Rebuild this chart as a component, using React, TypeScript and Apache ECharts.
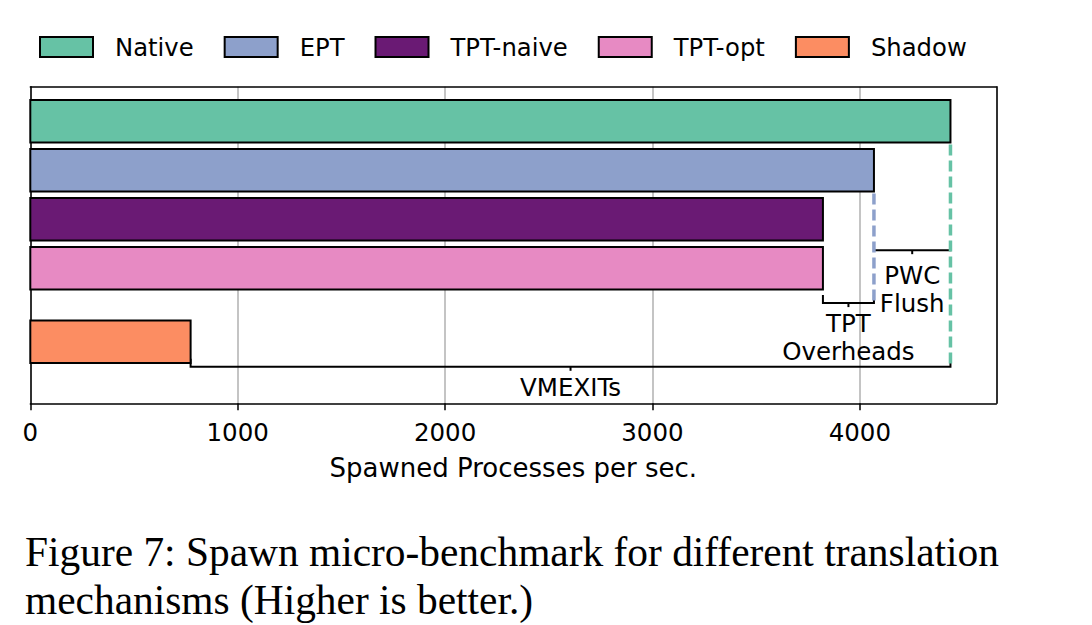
import React, { useEffect, useRef } from "react";
import * as echarts from "echarts";

// ---- data ----
const categories = ["Native", "EPT", "TPT-naive", "TPT-opt", "Shadow"];
const values = [4437, 4068, 3822, 3822, 773];
const xTicks = [0, 1000, 2000, 3000, 4000];
const xAxisMax = 4658;
const xAxisName = "Spawned Processes per sec.";
const annotationLabels = [["PWC", "Flush"], ["TPT", "Overheads"], ["VMEXITs"]];
// bracket spans: [from category index, to category index]
const annotationSpans = [
  [1, 0],
  [3, 1],
  [4, 0],
];
const captionLines = [
  "Figure 7: Spawn micro-benchmark for different translation",
  "mechanisms (Higher is better.)",
];

// ---- layout / style ----
const colors = ["#66c2a5", "#8da0cb", "#6a1a74", "#e78ac3", "#fc8d62"];
const slots = [0, 1, 2, 3, 4.5];
const barRatio = 0.87;
const bracketLevels = [2.63, 3.71, 5.01];
const textOffsets = [25, 20, 21];
// dashed guides: [category index, bracket index it reaches]
const guides = [
  [0, 2],
  [1, 1],
];
const FONT = "DejaVu Sans";
const Y_MIN = -0.706;
const Y_MAX = 5.755;

export default function App() {
  const ref = useRef<HTMLDivElement>(null);
  useEffect(() => {
    if (!ref.current) return;
    const chart = echarts.init(ref.current, undefined, { renderer: "svg" });

    const barSeries = categories.map((name, i) => ({
      type: "custom",
      name,
      z: 3,
      itemStyle: { color: colors[i], borderColor: "#000", borderWidth: 2 },
      encode: { x: 0, y: 1 },
      data: [[values[i], slots[i]]],
      renderItem: (params: any, api: any) => {
        const v = api.value(0);
        const s = api.value(1);
        const p0 = api.coord([0, s]);
        const p1 = api.coord([v, s]);
        const h = api.size([0, 1])[1] * barRatio;
        return {
          type: "rect",
          shape: { x: p0[0], y: p1[1] - h / 2, width: p1[0] - p0[0], height: h },
          style: { fill: colors[i], stroke: "#000", lineWidth: 2 },
        };
      },
    }));

    const annoSeries = {
      type: "custom",
      name: "annotations",
      z: 2,
      silent: true,
      encode: { x: 0, y: 2 },
      data: annotationSpans.map((sp, k) => [
        values[sp[0]],
        values[sp[1]],
        bracketLevels[k],
      ]),
      renderItem: (params: any, api: any) => {
        const k = params.dataIndex;
        const a = api.value(0);
        const b = api.value(1);
        const lv = api.value(2);
        const pa = api.coord([a, lv]);
        const pb = api.coord([b, lv]);
        const y = pa[1];
        const cx = (pa[0] + pb[0]) / 2;
        const children: any[] = [];
        const lineStyle = { stroke: "#000", lineWidth: 2 };
        children.push({
          type: "polyline",
          shape: {
            points: [
              [pa[0], y - 8],
              [pa[0], y],
              [pb[0], y],
              [pb[0], y - 8],
            ],
          },
          style: { stroke: "#000", lineWidth: 2, fill: "none" },
        });
        children.push({
          type: "line",
          shape: { x1: cx, y1: y, x2: cx, y2: y + 4 },
          style: lineStyle,
        });
        children.push({
          type: "text",
          style: {
            text: annotationLabels[k].join("\n"),
            x: cx,
            y: y + textOffsets[k] - 14,
            align: "center",
            verticalAlign: "top",
            fontSize: 24.5,
            lineHeight: 28,
            fontFamily: FONT,
            fill: "#000",
          },
        });
        guides.forEach((g) => {
          if (g[1] !== k) return;
          const ci = g[0];
          const pt = api.coord([values[ci], slots[ci]]);
          const h = api.size([0, 1])[1] * barRatio;
          children.push({
            type: "line",
            shape: { x1: pt[0], y1: pt[1] + h / 2 + 2, x2: pt[0], y2: y },
            style: { stroke: colors[ci], lineWidth: 3.5, lineDash: [11, 5] },
          });
        });
        return { type: "group", children };
      },
    };

    const frameAxis = {
      axisLine: { show: true, onZero: false, lineStyle: { color: "#000", width: 1.5 } },
      axisTick: { show: false },
      axisLabel: { show: false },
      splitLine: { show: false },
    };

    chart.setOption({
      animation: false,
      backgroundColor: "#fff",
      textStyle: { fontFamily: FONT },
      legend: {
        left: 39,
        top: 35,
        padding: 0,
        itemGap: 30,
        itemWidth: 53,
        itemHeight: 20,
        icon: "rect",
        data: categories,
        itemStyle: { borderColor: "#000", borderWidth: 2 },
        textStyle: { fontSize: 24.3, color: "#000", fontFamily: FONT, padding: [0, 0, 0, 17] },
        selectedMode: false,
      },
      grid: {
        left: 30.3,
        right: 95.7,
        top: 86.7,
        bottom: 221.7,
        show: false,
        containLabel: false,
      },
      xAxis: [
        {
          type: "value",
          min: 0,
          max: xAxisMax,
          interval: 1000,
          name: xAxisName,
          nameLocation: "middle",
          nameGap: 52,
          nameTextStyle: { fontSize: 26, color: "#000", fontFamily: FONT },
          axisLine: { show: true, onZero: false, lineStyle: { color: "#000", width: 1.5 } },
          axisTick: { show: true, length: 7, lineStyle: { color: "#000", width: 1.5 } },
          axisLabel: {
            fontSize: 24.5,
            color: "#000",
            fontFamily: FONT,
            margin: 17,
            showMaxLabel: false,
            formatter: (v: number) => (xTicks.includes(v) ? String(v) : ""),
          },
          splitLine: { show: true, lineStyle: { color: "#b0b0b0", width: 1.5 } },
        },
        { type: "value", position: "top", min: 0, max: xAxisMax, ...frameAxis },
      ],
      yAxis: [
        { type: "value", inverse: true, min: Y_MIN, max: Y_MAX, position: "left", ...frameAxis },
        { type: "value", inverse: true, min: Y_MIN, max: Y_MAX, position: "right", ...frameAxis },
      ],
      series: [annoSeries, ...barSeries],
      graphic: captionLines.map((t, i) => ({
        type: "text",
        left: 25,
        top: 531 + i * 48,
        style: {
          text: t,
          fontSize: 41.4,
          fontFamily: "Liberation Serif",
          fill: "#000",
        },
      })),
    });
    return () => chart.dispose();
  }, []);
  return (
    <div
      ref={ref}
      style={{ position: "absolute", left: 0, top: 0, width: 1092, height: 625 }}
    />
  );
}
